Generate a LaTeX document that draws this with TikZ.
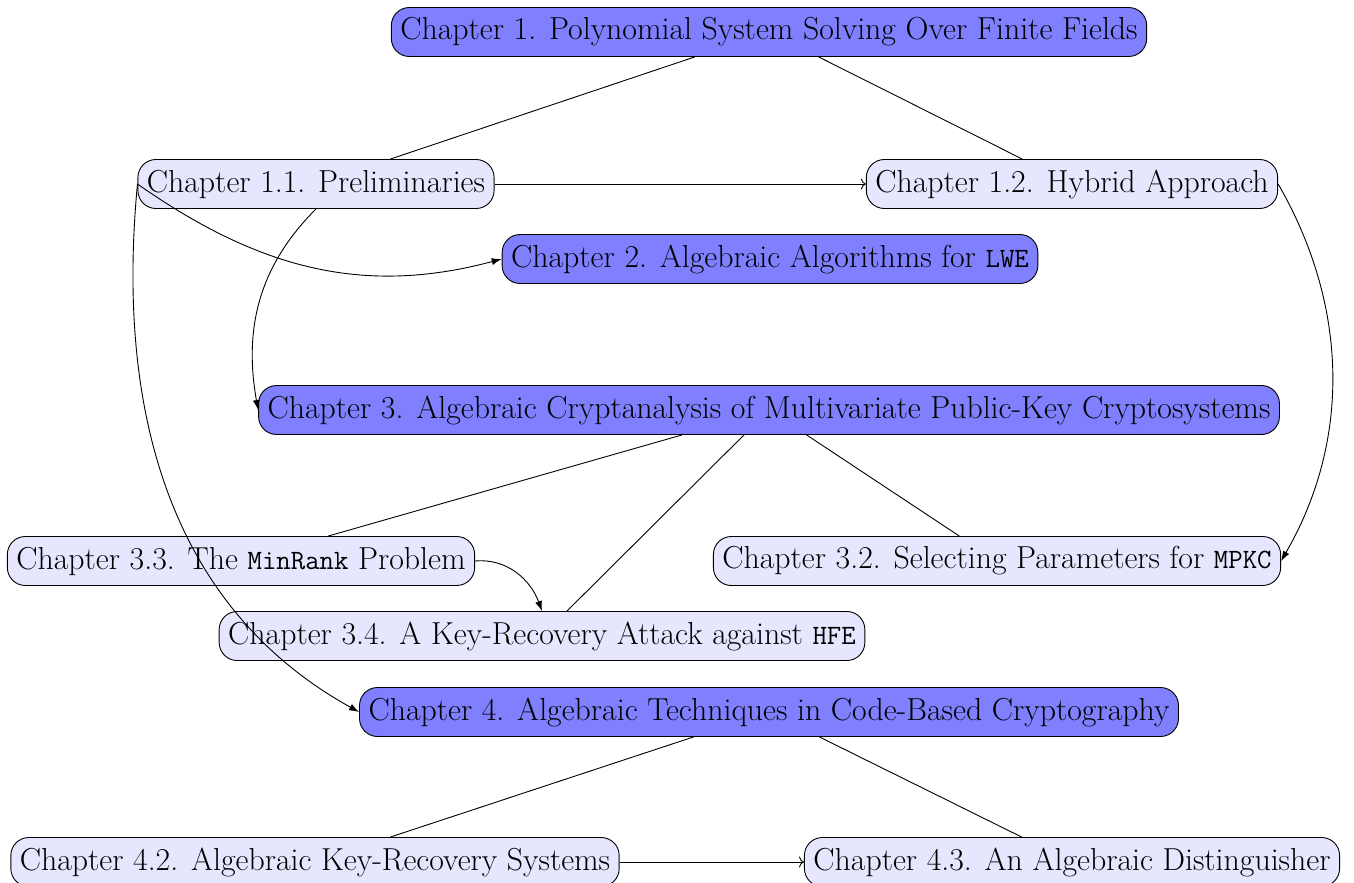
\documentclass[tikz,border=0pt]{standalone}
\usetikzlibrary{arrows.meta}
\definecolor{darkfill}{RGB}{128,128,255}
\definecolor{lightfill}{RGB}{230,230,255}
\newcommand{\mono}[1]{{\fontsize{28}{32}\selectfont\ttfamily #1}}
\begin{document}
\begin{tikzpicture}[x=1pt,y=1pt,line width=0.9pt,
  chbox/.style={draw,rounded corners=18pt,minimum height=49pt,inner xsep=9pt,inner ysep=4pt,font=\fontsize{31.8}{36}\selectfont},
  dark/.style={chbox,fill=darkfill},
  light/.style={chbox,fill=lightfill},
  tarrow/.style={-{Latex[length=10pt,width=7pt]}},
  sarrow/.style={-{To[length=5pt,width=11pt]}}]
\useasboundingbox (0,0) rectangle (1354,-883);
\node[dark]  (ch1)  at (769,-32)  {Chapter 1. Polynomial System Solving Over Finite Fields};
\node[light] (ch11) at (316,-184) {Chapter 1.1. Preliminaries};
\node[light] (ch12) at (1072,-184) {Chapter 1.2. Hybrid Approach};
\node[dark]  (ch2)  at (770,-259) {Chapter 2. Algebraic Algorithms for \mono{LWE}};
\node[dark]  (ch3)  at (769,-410) {Chapter 3. Algebraic Cryptanalysis of Multivariate Public-Key Cryptosystems};
\node[light] (ch33) at (241,-561) {Chapter 3.3. The \mono{MinRank} Problem};
\node[light] (ch32) at (997,-561) {Chapter 3.2. Selecting Parameters for \mono{MPKC}};
\node[light] (ch34) at (542,-636) {Chapter 3.4. A Key-Recovery Attack against \mono{HFE}};
\node[dark]  (ch4)  at (769,-712) {Chapter 4. Algebraic Techniques in Code-Based Cryptography};
\node[light] (ch42) at (315,-862) {Chapter 4.2. Algebraic Key-Recovery Systems};
\node[light] (ch43) at (1072,-862) {Chapter 4.3. An Algebraic Distinguisher};
% tree edges
\draw (ch1) -- (ch11);
\draw (ch1) -- (ch12);
\draw (ch3) -- (ch33);
\draw (ch3) -- (ch34);
\draw (ch3) -- (ch32);
\draw (ch4) -- (ch42);
\draw (ch4) -- (ch43);
% straight arrows
\draw[sarrow] (ch11.east) -- (ch12.west);
\draw[sarrow] (ch42.east) -- (ch43.west);
% curved arrows
\draw[tarrow] (ch11.west) to[out=-35,in=195] (ch2.west);
\draw[tarrow] (ch11.south) to[out=-135,in=100] (ch3.west);
\draw[tarrow] (ch11.west) .. controls (115,-420) and (175,-610) .. (ch4.west);
\draw[tarrow] (ch12.east) to[out=-60,in=60,looseness=0.95] (ch32.east);
\draw[tarrow] (ch33.east) to[out=5,in=110] (ch34.north);
\end{tikzpicture}
\end{document}
